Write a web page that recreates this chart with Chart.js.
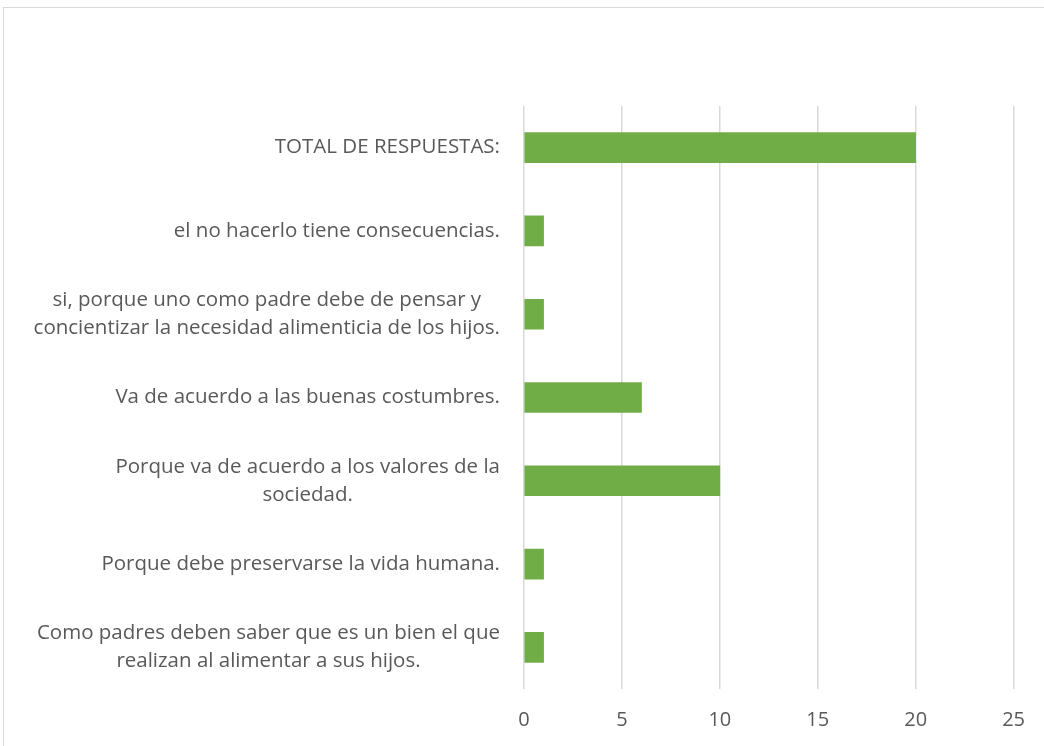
<!DOCTYPE html>
<html>
<head>
<meta charset="utf-8">
<script src="https://cdn.jsdelivr.net/npm/chart.js@4/dist/chart.umd.min.js"></script>
<style>
  body { margin: 0; overflow: hidden; background: #fff; }
  #frame { position: absolute; left: 3px; top: 7px; width: 1100px; height: 800px; border: 1.5px solid #d9d9d9; }
  #wrap { position: absolute; left: 0; top: 0; width: 1044px; height: 746px; }
</style>
</head>
<body>
<div id="frame"></div>
<div id="wrap"><canvas id="chart" width="1044" height="746"></canvas></div>
<script>
// categories, top to bottom
const categories = [
    'TOTAL DE RESPUESTAS:',
    'el no hacerlo tiene consecuencias.',
    ['si, porque uno como padre debe de pensar y', 'concientizar la necesidad alimenticia de los hijos.'],
    'Va de acuerdo a las buenas costumbres.',
    ['Porque va de acuerdo a los valores de la', 'sociedad.'],
    'Porque debe preservarse la vida humana.',
    ['Como padres deben saber que es un bien el que', 'realizan al alimentar a sus hijos.']
];
// answers per category
const answers = [20, 1, 1, 6, 10, 1, 1];
// x axis
const xTicks = [0, 5, 10, 15, 20, 25];

const textColor = '#595959';
const gridColor = '#d9d9d9';
const labelFont = '20.5px "Open Sans"';
const labelLine = 28;

// category labels: block right aligned at the axis, lines centred inside the block
const categoryLabels = {
    id: 'categoryLabels',
    afterDraw: function(chart){
        const c = chart.ctx;
        const y = chart.scales.y;
        const right = y.right - 24;
        c.save();
        c.font = labelFont;
        c.fillStyle = textColor;
        c.textAlign = 'center';
        c.textBaseline = 'middle';
        categories.forEach(function(label, i){
            const lines = Array.isArray(label) ? label : [label];
            let w = 0;
            lines.forEach(function(l){ w = Math.max(w, c.measureText(l).width); });
            const cy = y.getPixelForTick(i);
            const top = cy - (lines.length - 1) * labelLine / 2;
            lines.forEach(function(l, k){
                c.fillText(l, right - w / 2, top + k * labelLine);
            });
        });
        c.restore();
    }
};

const ctx = document.getElementById('chart').getContext('2d');
const chart = new Chart(ctx, {
    type: 'bar',
    data: {
        labels: categories,
        datasets: [{
            label: 'Respuestas',
            data: answers,
            backgroundColor: '#70ad47',
            borderWidth: 0,
            barThickness: 30
        }]
    },
    options: {
        indexAxis: 'y',
        responsive: false,
        animation: false,
        layout: {
            padding: { top: 106, right: 29, bottom: 0, left: 0 }
        },
        plugins: {
            legend: { display: false },
            tooltip: { enabled: false }
        },
        scales: {
            x: {
                min: xTicks[0],
                max: xTicks[xTicks.length - 1],
                afterBuildTicks: function(scale){
                    scale.ticks = xTicks.map(v => ({ value: v }));
                },
                afterFit: function(scale){
                    scale.height = 57;
                },
                grid: {
                    color: gridColor,
                    lineWidth: 1.5,
                    drawTicks: false
                },
                border: { display: false },
                ticks: {
                    color: textColor,
                    padding: 19,
                    font: { family: 'Open Sans', size: 20 }
                }
            },
            y: {
                afterFit: function(scale){
                    scale.width = 524;
                },
                grid: { display: false, drawTicks: false },
                border: { display: false },
                ticks: {
                    color: 'rgba(0,0,0,0)',
                    padding: 24,
                    font: { family: 'Open Sans', size: 20 }
                }
            }
        }
    },
    plugins: [categoryLabels]
});
</script>
</body>
</html>
